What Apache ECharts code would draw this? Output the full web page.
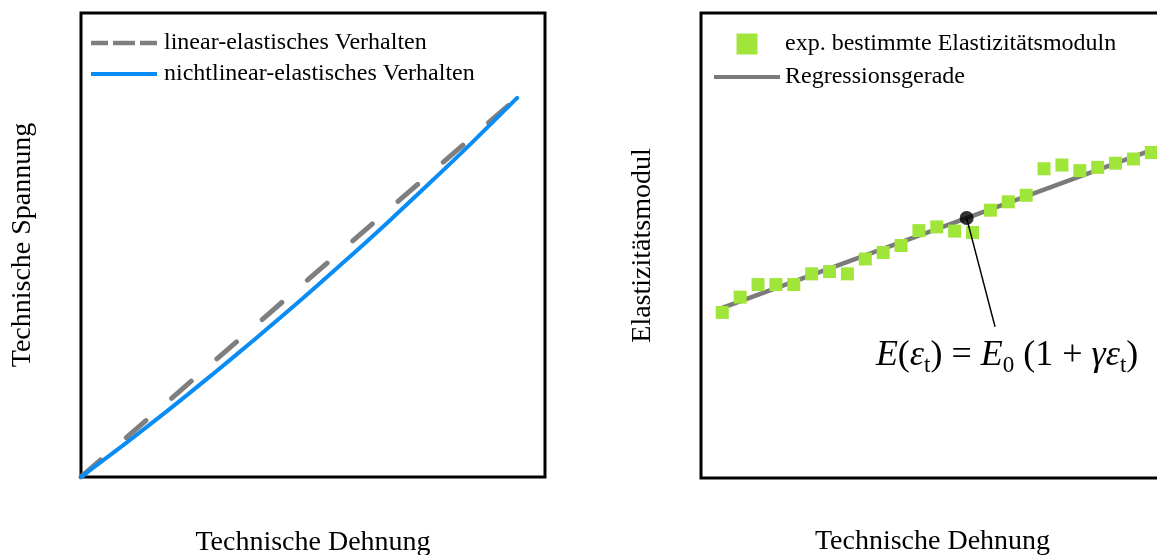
<!DOCTYPE html>
<html>
<head>
<meta charset="utf-8">
<script src="https://cdn.jsdelivr.net/npm/echarts@6/dist/echarts.min.js"></script>
<style>
  html, body { margin: 0; padding: 0; background: #ffffff; }
  #chart { width: 1157px; height: 555px; }
</style>
</head>
<body>
<div id="chart"></div>
<script>
// Left panel: stress-strain behaviour (arbitrary units, 0..100)
const linearDehnung = [0, 94];
const linearSpannung = [0, 81.7];
const nichtlinearDehnung = [0, 9.4, 18.8, 28.2, 37.6, 47, 56.4, 65.8, 75.2, 84.6, 94];
const nichtlinearSpannung = [0, 7.1, 14.4, 22.0, 29.8, 37.8, 46.1, 54.6, 63.4, 72.4, 81.7];

// Right panel: measured moduli per strain step and their regression line
const messStufen = [1, 2, 3, 4, 5, 6, 7, 8, 9, 10, 11, 12, 13, 14, 15, 16, 17, 18, 19, 20, 21, 22, 23, 24, 25];
const eModuln = [35.6, 38.9, 41.6, 41.6, 41.6, 43.9, 44.4, 43.9, 47.1, 48.5, 50.0, 53.2, 54.0, 53.1, 52.8,
                 57.6, 59.4, 60.8, 66.5, 67.3, 66.1, 66.8, 67.7, 68.6, 70.0];
const regressionDehnung = [1, 25.71];
const regressionModul = [36.6, 71.5];
const bezugspunkt = [14.67, 55.9];
const formelAnker = [16.26, 32.5];

const legendLinks = ['linear-elastisches Verhalten', 'nichtlinear-elastisches Verhalten'];
const legendRechts = ['exp. bestimmte Elastizitätsmoduln', 'Regressionsgerade'];
const achseX = 'Technische Dehnung';
const achseYLinks = 'Technische Spannung';
const achseYRechts = 'Elastizitätsmodul';

const SERIF = 'Liberation Serif';
const zip = (xs, ys) => xs.map((x, i) => [x, ys[i]]);

// legend glyphs: solid bar, dashed bar, filled square
const ICON_LINIE = 'path://M0,0h66v4h-66z';
const ICON_STRICH = 'path://M0,0h17v4.5h-17zM22,0h22v4.5h-22zM49,0h17v4.5h-17z';
const ICON_QUADRAT = 'path://M0,0h10v10h-10z';

const hiddenAxisParts = {
  axisLine: { show: false },
  axisTick: { show: false },
  axisLabel: { show: false },
  splitLine: { show: false }
};
const nameStyle = { fontFamily: SERIF, fontSize: 28, color: '#000000' };
const gridBase = { show: true, borderColor: '#000000', borderWidth: 3, backgroundColor: 'transparent', outerBoundsMode: 'none', containLabel: false };

const chart = echarts.init(document.getElementById('chart'), null, { renderer: 'canvas' });

chart.setOption({
  animation: false,
  backgroundColor: '#ffffff',
  grid: [
    Object.assign({ left: 81, top: 13, width: 464, height: 464 }, gridBase),
    Object.assign({ left: 701, top: 13, width: 463, height: 465 }, gridBase)
  ],
  xAxis: [
    Object.assign({ type: 'value', gridIndex: 0, min: 0, max: 100, name: achseX, nameLocation: 'middle', nameGap: 52, nameTextStyle: nameStyle }, hiddenAxisParts),
    Object.assign({ type: 'value', gridIndex: 1, min: -0.19, max: 25.71, name: achseX, nameLocation: 'middle', nameGap: 50, nameTextStyle: nameStyle }, hiddenAxisParts)
  ],
  yAxis: [
    Object.assign({ type: 'value', gridIndex: 0, min: 0, max: 100, name: achseYLinks, nameLocation: 'middle', nameGap: 44, nameTextStyle: nameStyle }, hiddenAxisParts),
    Object.assign({ type: 'value', gridIndex: 1, min: 0, max: 100, name: achseYRechts, nameLocation: 'middle', nameGap: 44, nameTextStyle: nameStyle }, hiddenAxisParts)
  ],
  legend: [
    {
      orient: 'vertical', left: 86, top: 26, padding: 5, itemWidth: 66, itemHeight: 14, itemGap: 7,
      textStyle: { fontFamily: SERIF, fontSize: 24, color: '#000000', padding: [0, 0, 0, 2] },
      data: [
        { name: legendLinks[0], icon: ICON_STRICH },
        { name: legendLinks[1], icon: ICON_LINIE }
      ],
      selectedMode: false
    },
    {
      orient: 'vertical', left: 709, top: 27, padding: 5, itemWidth: 66, itemHeight: 21, itemGap: 9,
      textStyle: { fontFamily: SERIF, fontSize: 24, color: '#000000' },
      data: [
        { name: legendRechts[0], icon: ICON_QUADRAT },
        { name: legendRechts[1], icon: ICON_LINIE }
      ],
      selectedMode: false
    }
  ],
  series: [
    {
      name: legendLinks[0], type: 'line', xAxisIndex: 0, yAxisIndex: 0,
      data: zip(linearDehnung, linearSpannung), symbol: 'none',
      lineStyle: { color: '#7f7f7f', width: 5, type: [26, 34], cap: 'round' },
      itemStyle: { color: '#7f7f7f' }, z: 2
    },
    {
      name: legendLinks[1], type: 'line', xAxisIndex: 0, yAxisIndex: 0,
      data: zip(nichtlinearDehnung, nichtlinearSpannung), symbol: 'none', smooth: 0.3,
      lineStyle: { color: '#0a8cf5', width: 4, cap: 'round' },
      itemStyle: { color: '#0a8cf5' }, z: 3
    },
    {
      name: legendRechts[1], type: 'line', xAxisIndex: 1, yAxisIndex: 1,
      data: zip(regressionDehnung, regressionModul), symbol: 'none',
      lineStyle: { color: '#7a7a7a', width: 4.5 },
      itemStyle: { color: '#7a7a7a' }, z: 2
    },
    {
      name: legendRechts[0], type: 'scatter', xAxisIndex: 1, yAxisIndex: 1,
      data: zip(messStufen, eModuln), symbol: 'rect', symbolSize: 13,
      itemStyle: { color: '#a0e53a', opacity: 1 }, z: 3
    },
    {
      name: 'Formelbezug', type: 'line', xAxisIndex: 1, yAxisIndex: 1,
      data: [bezugspunkt, formelAnker], symbol: 'none',
      lineStyle: { color: '#000000', width: 1.5 }, z: 4, silent: true
    },
    {
      name: 'Bezugspunkt', type: 'scatter', xAxisIndex: 1, yAxisIndex: 1,
      data: [bezugspunkt], symbol: 'circle', symbolSize: 14,
      itemStyle: { color: '#000000' }, z: 5, silent: true
    },
    {
      name: 'Formel', type: 'scatter', xAxisIndex: 1, yAxisIndex: 1,
      data: [formelAnker], symbolSize: 1, itemStyle: { color: 'rgba(0,0,0,0)' }, z: 5, silent: true,
      label: {
        show: true, position: 'bottom', distance: 6, offset: [12, 0],
        color: '#000000', opacity: 1, textBorderWidth: 0,
        formatter: '{i|E}{n|(}{i|ε}{s|t}{n|) = }{i|E}{s|0}{n| (1 + }{i|γε}{s|t}{n|)}',
        rich: {
          i: { fontFamily: SERIF, fontStyle: 'italic', fontSize: 36, lineHeight: 44, color: '#000000' },
          n: { fontFamily: SERIF, fontSize: 36, lineHeight: 44, color: '#000000' },
          s: { fontFamily: SERIF, fontSize: 23, lineHeight: 23, verticalAlign: 'bottom', color: '#000000' }
        }
      }
    }
  ]
});
</script>
</body>
</html>
